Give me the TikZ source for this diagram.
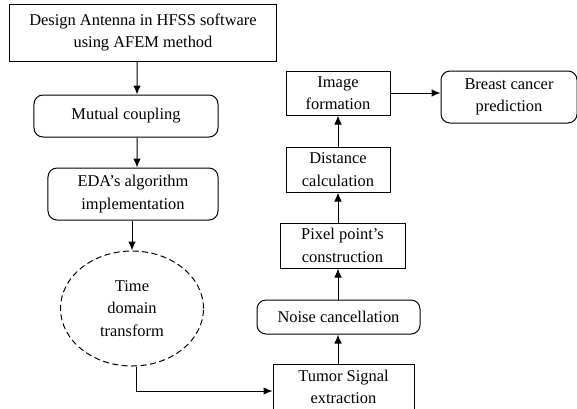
\documentclass[tikz,border=0pt]{standalone}
\usepackage{fontspec}
\setmainfont{Liberation Serif}
\usetikzlibrary{arrows.meta,shapes.geometric}

\begin{document}
\begin{tikzpicture}[x=1bp,y=-1bp,
font=\fontsize{16.5}{22.5}\selectfont,
box/.style={draw,line width=1bp,align=center,inner sep=0pt},
rbox/.style={box,rounded corners=9bp},
arr/.style={-{Latex[length=9bp,width=7.5bp]},line width=1bp}]
\useasboundingbox (0,0) rectangle (577,408);
% left column
\node[box,minimum width=266bp,minimum height=57bp] (design) at (143,32.5) {Design Antenna in HFSS software\\using AFEM method};
\node[rbox,minimum width=184bp,minimum height=42bp] (mutual) at (126,116) {Mutual coupling};
\node[rbox,minimum width=170bp,minimum height=52bp] (eda) at (133,194) {EDA's algorithm\\implementation};
\node[ellipse,draw,dashed,dash pattern=on 6bp off 3.5bp,line width=1bp,align=center,inner sep=0pt,
  minimum width=143bp,minimum height=115bp] (tdt) at (132,308.5) {Time\\domain\\transform};
% right column
\node[box,minimum width=141bp,minimum height=46bp] (tumor) at (343.5,387) {Tumor Signal\\extraction};
\node[rbox,minimum width=163bp,minimum height=34bp] (noise) at (338.5,317) {Noise cancellation};
\node[box,minimum width=125bp,minimum height=45bp] (pixel) at (342.5,245.5) {Pixel point's\\construction};
\node[box,minimum width=104bp,minimum height=45bp] (dist) at (338,169.5) {Distance\\calculation};
\node[box,minimum width=104bp,minimum height=44bp] (image) at (338,93) {Image\\formation};
\node[rbox,minimum width=136bp,minimum height=52bp] (breast) at (509,97) {Breast cancer\\prediction};
% connectors
\draw[arr] ([xshift=-6bp]design.south) -- ([xshift=11bp]mutual.north);
\draw[arr] ([xshift=11bp]mutual.south) -- ([xshift=4bp]eda.north);
\draw[arr] (eda.south -| tdt.north) -- (tdt.north);
\draw[arr] ([xshift=4bp]tdt.south) |- ([yshift=-4bp]tumor.west);
\draw[arr] (tumor.north -| image) -- (noise.south -| image);
\draw[arr] (noise.north -| image) -- (pixel.south -| image);
\draw[arr] (pixel.north -| image) -- (dist.south);
\draw[arr] (dist.north) -- (image.south);
\draw[arr] (image.east) -- (breast.west |- image.east);
\end{tikzpicture}
\end{document}
